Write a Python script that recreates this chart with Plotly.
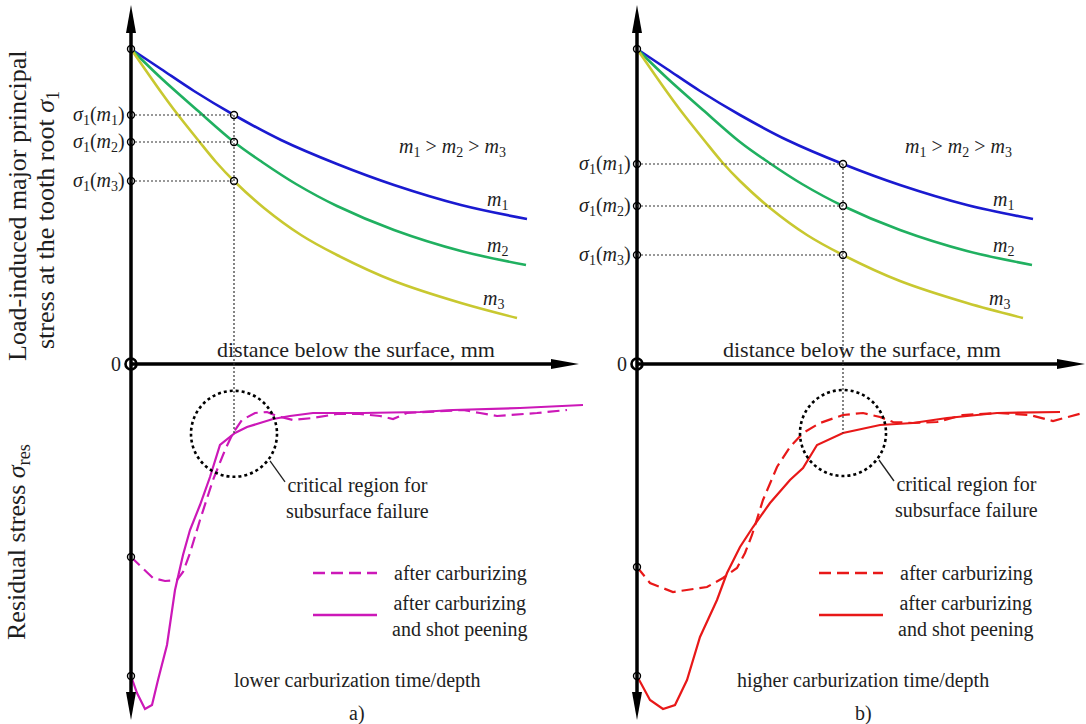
import numpy as np
import plotly.graph_objects as go

W, H = 1086, 724

# ---------------- data (distance below surface in mm, stress in arbitrary units) -------------
# load-induced principal stress curves (identical in both panels)
m1_x = [0, 0.30, 0.63, 1.03, 1.50, 2.06, 2.63, 3.30, 3.96]
m1_y = [315, 295, 273, 249, 224, 200, 179, 159, 145]
m2_x = [0, 0.30, 0.66, 1.03, 1.31, 1.65, 2.06, 2.63, 3.30, 3.95]
m2_y = [315, 286, 254, 222, 202, 180, 158, 134, 113, 99]
m3_x = [0, 0.30, 0.44, 0.67, 0.85, 1.03, 1.33, 1.70, 2.06, 2.63, 3.30, 3.86]
m3_y = [315, 272, 253, 224, 202, 183, 156, 129, 109, 83, 61, 46]

# residual stress, panel a (lower carburization time/depth)
a_carb_x = [0, 0.11, 0.22, 0.34, 0.46, 0.52, 0.59, 0.69, 0.82, 0.94, 1.02, 1.11, 1.24, 1.36,
            1.46, 1.62, 1.82, 2.06, 2.29, 2.49, 2.62, 2.76, 3.06, 3.32, 3.49, 3.66, 4.06, 4.36]
a_carb_y = [-193, -204, -214, -217, -216, -208, -189, -156, -116, -86, -69, -56, -49, -48,
            -52, -56, -54, -50, -50, -52, -55, -49, -47, -46, -49, -52, -49, -46]
a_peen_x = [0, 0.06, 0.14, 0.21, 0.27, 0.36, 0.44, 0.52, 0.59, 0.69, 0.79, 0.89, 1.04, 1.16,
            1.29, 1.42, 1.59, 1.82, 2.32, 2.89, 3.22, 3.56, 3.89, 4.52]
a_peen_y = [-312, -329, -345, -341, -316, -281, -226, -191, -166, -141, -113, -81, -69, -63,
            -59, -55, -52, -49, -49, -48, -46, -45, -44, -41]

# residual stress, panel b (higher carburization time/depth)
b_carb_x = [0, 0.13, 0.36, 0.50, 0.70, 0.86, 1.00, 1.08, 1.15, 1.26, 1.40, 1.53, 1.66, 1.83,
            2.06, 2.26, 2.43, 2.56, 2.76, 3.00, 3.26, 3.60, 3.93, 4.16, 4.46]
b_carb_y = [-203, -219, -228, -226, -223, -214, -204, -189, -171, -136, -103, -83, -69, -59,
            -51, -49, -53, -58, -59, -58, -51, -49, -51, -57, -49]
b_peen_x = [0, 0.13, 0.26, 0.38, 0.50, 0.63, 0.80, 0.90, 1.03, 1.16, 1.33, 1.53, 1.66, 1.80,
            2.06, 2.43, 2.76, 3.10, 3.60, 4.23]
b_peen_y = [-312, -336, -345, -341, -316, -273, -236, -209, -183, -163, -139, -116, -104, -81,
            -69, -61, -59, -54, -49, -48]

probe_a = 1.03   # examined depth, panel a
probe_b = 2.06   # examined depth, panel b

curve_idx = ["1", "2", "3"]
legend_labels = ["after carburizing", "after carburizing<br>and shot peening"]
panel_notes = ["lower carburization time/depth", "higher carburization time/depth"]
panel_tags = ["a)", "b)"]
x_title = "distance below the surface, mm"
y_titles = ["Load-induced major principal", "stress at the tooth root <i>σ</i><sub>1</sub>",
            "Residual stress <i>σ</i><sub>res</sub>"]

# ---------------- styling -------------
FONT = "Liberation Serif"
TXT = "#1e1e1e"
C_M = ["#1a1ad0", "#20b060", "#c8c830"]
C_RES = ["#cc18b8", "#e81818"]
PX_PER_MM = 100.0
Y0_PX = 364
AXIS_W = 3.5

fig = go.Figure()

panels = [
    dict(xa="x", lay="xaxis", domain=[0.0, 0.56], origin_px=131, probe=probe_a,
         carb=(a_carb_x, a_carb_y), peen=(a_peen_x, a_peen_y), color=C_RES[0],
         note=panel_notes[0], tag=panel_tags[0]),
    dict(xa="x2", lay="xaxis2", domain=[0.46, 1.0], origin_px=637, probe=probe_b,
         carb=(b_carb_x, b_carb_y), peen=(b_peen_x, b_peen_y), color=C_RES[1],
         note=panel_notes[1], tag=panel_tags[1]),
]

shapes = []
annos = []
curves = [(m1_x, m1_y), (m2_x, m2_y), (m3_x, m3_y)]

y_top_tip, y_bot_tip = Y0_PX - 5, -(H - Y0_PX) + 4
x_tip = 4.48
head_len_x, head_len_y, head_half_x, head_half_y = 0.28, 28, 0.05, 5


def txt(x, y, s, xa, size=20, **kw):
    d = dict(x=x, y=y, xref=xa, yref="y", text=s, showarrow=False,
             font=dict(family=FONT, size=size, color=TXT))
    d.update(kw)
    annos.append(d)


for p in panels:
    xa = p["xa"]
    lo = (p["domain"][0] * W - p["origin_px"]) / PX_PER_MM
    hi = (p["domain"][1] * W - p["origin_px"]) / PX_PER_MM
    fig.update_layout(**{p["lay"]: dict(domain=p["domain"], range=[lo, hi], visible=False,
                                         fixedrange=True, anchor="y")})

    # axes lines + arrow heads
    shapes.append(dict(type="line", xref=xa, yref="y", x0=0, x1=0, y0=y_bot_tip + head_len_y - 2,
                       y1=y_top_tip - head_len_y + 2, line=dict(color="black", width=AXIS_W)))
    shapes.append(dict(type="line", xref=xa, yref="y", x0=0, x1=x_tip - head_len_x + 0.02, y0=0, y1=0,
                       line=dict(color="black", width=AXIS_W)))
    shapes.append(dict(type="path", xref=xa, yref="y", fillcolor="black", line=dict(width=0),
                       path=f"M{-head_half_x},{y_top_tip - head_len_y} L0,{y_top_tip} L{head_half_x},{y_top_tip - head_len_y} Z"))
    shapes.append(dict(type="path", xref=xa, yref="y", fillcolor="black", line=dict(width=0),
                       path=f"M{-head_half_x},{y_bot_tip + head_len_y} L0,{y_bot_tip} L{head_half_x},{y_bot_tip + head_len_y} Z"))
    shapes.append(dict(type="path", xref=xa, yref="y", fillcolor="black", line=dict(width=0),
                       path=f"M{x_tip - head_len_x},{-head_half_y} L{x_tip},0 L{x_tip - head_len_x},{head_half_y} Z"))

    probe = p["probe"]
    sig = [float(np.interp(probe, cx, cy)) for cx, cy in curves]
    peen_at_probe = float(np.interp(probe, *p["peen"]))

    # dotted guide lines
    for s in sig:
        shapes.append(dict(type="line", xref=xa, yref="y", x0=0, x1=probe, y0=s, y1=s,
                           line=dict(color="#333", width=1.2, dash="2px,2px")))
    shapes.append(dict(type="line", xref=xa, yref="y", x0=probe, x1=probe, y0=sig[0], y1=peen_at_probe,
                       line=dict(color="#333", width=1.2, dash="2px,2px")))

    # critical region circle and leader
    r_x, r_y = 0.43, 43
    shapes.append(dict(type="circle", xref=xa, yref="y", x0=probe - r_x, x1=probe + r_x,
                       y0=peen_at_probe - r_y, y1=peen_at_probe + r_y,
                       line=dict(color="black", width=2.6, dash="dot")))
    shapes.append(dict(type="line", xref=xa, yref="y", x0=probe + 0.36, x1=probe + 0.51,
                       y0=peen_at_probe - 27, y1=peen_at_probe - 48,
                       line=dict(color="#222", width=1.3)))
    txt(probe + 0.50, peen_at_probe - 64, "critical region for<br>subsurface failure", xa,
        size=20, xanchor="left", yanchor="middle", align="center")

    # load-induced stress curves
    for (cx, cy), col in zip(curves, C_M):
        fig.add_trace(go.Scatter(x=cx, y=cy, mode="lines", xaxis=xa, yaxis="y",
                                 line=dict(color=col, width=2.6, shape="spline", smoothing=1.0),
                                 hoverinfo="skip", showlegend=False))

    # residual stress curves
    cx, cy = p["carb"]
    fig.add_trace(go.Scatter(x=cx, y=cy, mode="lines", xaxis=xa, yaxis="y",
                             line=dict(color=p["color"], width=2.2, dash="12px,6px"),
                             hoverinfo="skip", showlegend=False))
    cx, cy = p["peen"]
    fig.add_trace(go.Scatter(x=cx, y=cy, mode="lines", xaxis=xa, yaxis="y",
                             line=dict(color=p["color"], width=2.2),
                             hoverinfo="skip", showlegend=False))

    # legend samples
    leg_y = [-209, -251]
    shapes.append(dict(type="line", xref=xa, yref="y", x0=1.82, x1=2.46, y0=leg_y[0], y1=leg_y[0],
                       line=dict(color=p["color"], width=2.4, dash="12px,6px")))
    shapes.append(dict(type="line", xref=xa, yref="y", x0=1.82, x1=2.46, y0=leg_y[1], y1=leg_y[1],
                       line=dict(color=p["color"], width=2.4)))
    txt(2.61, leg_y[0], legend_labels[0], xa, xanchor="left", yanchor="middle")
    txt(2.59, leg_y[1] - 1, legend_labels[1], xa, xanchor="left", yanchor="middle", align="center")

    # open-circle markers
    mk_x = [0, 0, 0, 0, 0, 0, probe, probe, probe]
    mk_y = [m1_y[0], sig[0], sig[1], sig[2], p["carb"][1][0], p["peen"][1][0], sig[0], sig[1], sig[2]]
    fig.add_trace(go.Scatter(x=mk_x, y=mk_y, mode="markers", xaxis=xa, yaxis="y",
                             marker=dict(size=7, color="white", line=dict(color="black", width=1.4)),
                             hoverinfo="skip", showlegend=False))
    fig.add_trace(go.Scatter(x=[0], y=[0], mode="markers", xaxis=xa, yaxis="y",
                             marker=dict(size=11, color="white", line=dict(color="black", width=2.6)),
                             hoverinfo="skip", showlegend=False))

    # texts
    for i, s in enumerate(sig):
        txt(-0.04, s, f"<i>σ</i><sub>1</sub>(<i>m</i><sub>{curve_idx[i]}</sub>)", xa,
            xanchor="right", yanchor="middle")
    txt(-0.08, 0, "0", xa, xanchor="right", yanchor="middle")
    txt(3.21, 217, "<i>m</i><sub>1</sub> &gt; <i>m</i><sub>2</sub> &gt; <i>m</i><sub>3</sub>", xa,
        xanchor="center", yanchor="middle")
    for (cx, cy), k, dx in zip(curves, curve_idx, [0.30, 0.29, 0.24]):
        txt(cx[-1] - dx, cy[-1] + 19, f"<i>m</i><sub>{k}</sub>", xa,
            xanchor="center", yanchor="middle")
    txt(2.25, 15, x_title, xa, size=22, xanchor="center", yanchor="middle")
    txt(2.26, -316, p["note"], xa, xanchor="center", yanchor="middle")
    txt(2.26, -349, p["tag"], xa, xanchor="center", yanchor="middle")

# y-axis titles (paper coordinates)
for s, xpx, ypx in zip(y_titles, [17, 47, 18], [206, 220, 542]):
    annos.append(dict(x=xpx / W, y=1 - ypx / H, xref="paper", yref="paper", text=s, showarrow=False,
                      textangle=-90, xanchor="center", yanchor="middle",
                      font=dict(family=FONT, size=26, color=TXT)))

fig.update_layout(
    width=W, height=H, margin=dict(l=0, r=0, t=0, b=0),
    paper_bgcolor="white", plot_bgcolor="rgba(0,0,0,0)",
    yaxis=dict(domain=[0, 1], range=[-(H - Y0_PX), Y0_PX], visible=False, fixedrange=True),
    shapes=shapes, annotations=annos, showlegend=False,
)

fig.write_html("out.html", config={"displayModeBar": False},
               post_script="document.body.style.margin='0';document.body.style.overflow='hidden';")
